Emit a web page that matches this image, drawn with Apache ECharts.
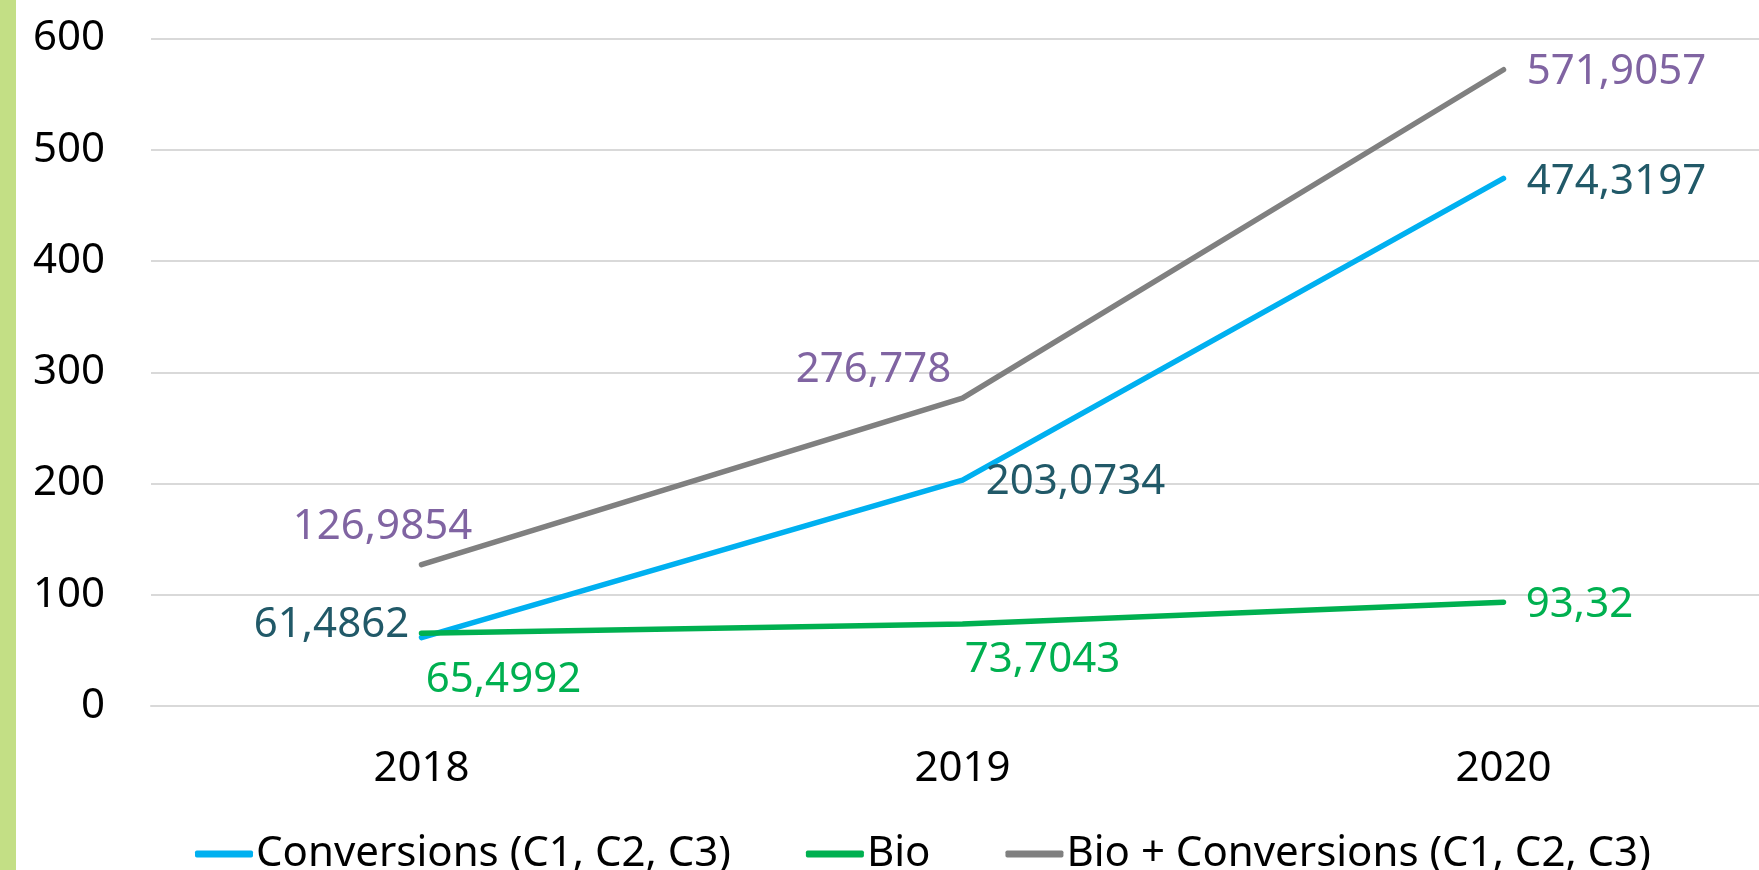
<!DOCTYPE html>
<html>
<head>
<meta charset="utf-8">
<script src="https://cdn.jsdelivr.net/npm/echarts@6/dist/echarts.min.js"></script>
<style>
  html, body { margin: 0; padding: 0; background: #fff; overflow: hidden; }
  /* a little wider than the window: the plot runs past the right edge, as in the original */
  #chart { width: 1774px; height: 870px; }
</style>
</head>
<body>
<div id="chart"></div>
<script>
// values
const years = ['2018', '2019', '2020'];
const conversions = [61.4862, 203.0734, 474.3197];
const bio = [65.4992, 73.7043, 93.32];
const bioPlusConversions = [126.9854, 276.778, 571.9057];
const yTicks = [0, 100, 200, 300, 400, 500, 600];

const FONT = "'Noto Sans', sans-serif";

// label shifts from each point (label centred on point, then moved)
const convOffsets = [[-90, -13], [113, 2], [113, 4]];
const bioOffsets = [[82, 47], [80, 36], [76, 3]];
const totalOffsets = [[-39, -38], [-89, -28], [113, 2]];

function fmt(v) {
  return String(v).replace('.', ',');
}

function makeSeries(name, values, lineColor, labelColor, offsets) {
  return {
    name: name,
    type: 'line',
    data: values,
    symbol: 'circle',
    symbolSize: 0.01,
    showSymbol: true,
    lineStyle: { color: lineColor, width: 5.5, cap: 'round', join: 'round' },
    itemStyle: { color: lineColor },
    label: {
      show: true,
      position: 'inside',
      color: labelColor,
      fontFamily: FONT,
      fontSize: 42,
      formatter: p => fmt(p.value)
    },
    labelLayout: function (params) {
      const o = offsets[params.dataIndex];
      return { dx: o[0], dy: o[1], hideOverlap: false };
    },
    emphasis: { disabled: true },
    animation: false
  };
}

const chart = echarts.init(document.getElementById('chart'));
chart.setOption({
  animation: false,
  textStyle: { fontFamily: FONT },
  graphic: [{
    type: 'rect',
    left: 0,
    top: 0,
    shape: { width: 16, height: 870 },
    style: { fill: '#C3DF85' }
  }],
  grid: { left: 151, right: 0, top: 38.5, bottom: 164 },
  legend: {
    top: 828,
    left: 190,
    icon: 'roundRect',
    itemWidth: 58,
    itemHeight: 7,
    itemGap: 75,
    textStyle: { fontFamily: FONT, fontSize: 42, color: '#000', padding: [0, 0, 0, -2] },
    data: ['Conversions (C1, C2, C3)', 'Bio', 'Bio + Conversions (C1, C2, C3)']
  },
  xAxis: {
    type: 'category',
    data: years,
    boundaryGap: true,
    axisLine: { show: true, lineStyle: { color: '#D9D9D9', width: 2 } },
    axisTick: { show: false },
    axisLabel: { color: '#000', fontFamily: FONT, fontSize: 42, margin: 42 }
  },
  yAxis: {
    type: 'value',
    min: yTicks[0],
    max: yTicks[yTicks.length - 1],
    interval: 100,
    axisLine: { show: false },
    axisTick: { show: false },
    splitLine: { lineStyle: { color: '#D9D9D9', width: 2 } },
    axisLabel: { color: '#000', fontFamily: FONT, fontSize: 42, margin: 46 }
  },
  series: [
    makeSeries('Conversions (C1, C2, C3)', conversions, '#00B0F0', '#215968', convOffsets),
    makeSeries('Bio', bio, '#00B050', '#00B050', bioOffsets),
    makeSeries('Bio + Conversions (C1, C2, C3)', bioPlusConversions, '#808080', '#8064A2', totalOffsets)
  ]
});
</script>
</body>
</html>
